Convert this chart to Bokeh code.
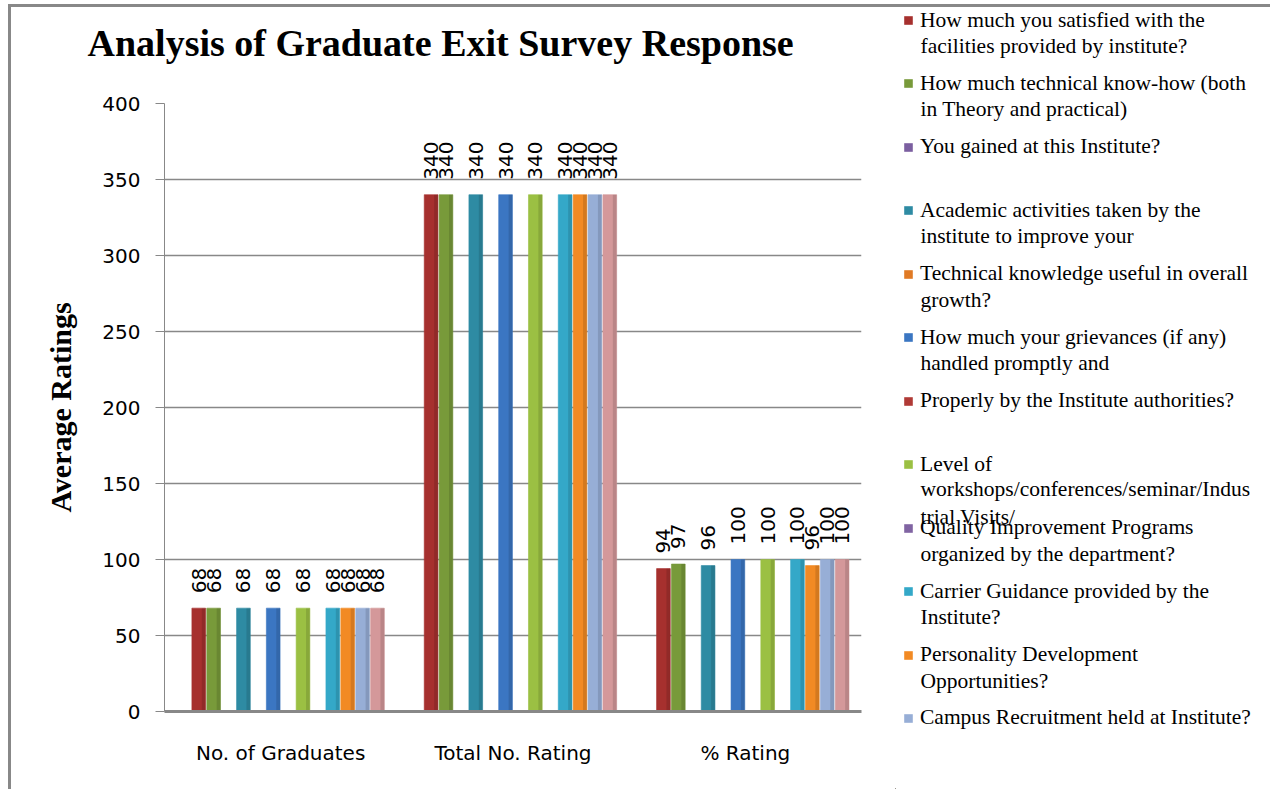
import math
from bokeh.plotting import figure
from bokeh.layouts import row, column
from bokeh.models import (ColumnDataSource, Legend, LegendItem, FixedTicker, Label)
from bokeh.transform import dodge
from bokeh.core.properties import value
from bokeh.embed import file_html
from bokeh.resources import INLINE

# ---------------- data ----------------
categories = ["No. of Graduates", "Total No. Rating", "% Rating"]

series_names = [
    "How much you satisfied with the\nfacilities provided by institute?",
    "How much technical know-how (both\nin Theory and practical)",
    "You gained at this Institute?",
    "Academic activities taken by the\ninstitute to improve your",
    "Technical knowledge useful in overall\ngrowth?",
    "How much your grievances (if any)\nhandled promptly and",
    "Properly by the Institute authorities?",
    "Level of\nworkshops/conferences/seminar/Indus\ntrial Visits/",
    "Quality Improvement Programs\norganized by the department?",
    "Carrier Guidance provided by the\nInstitute?",
    "Personality Development\nOpportunities?",
    "Campus Recruitment held at Institute?",
    "",
]

series_colors = ["#A6302E", "#789A3A", "#7B5FA0", "#2E8BA3", "#E07A25",
                 "#3B76C2", "#B03A36", "#9BC043", "#8064A2", "#34A8C8",
                 "#F28A24", "#97AED6", "#D4989A"]

s01_satisfied_facilities = [68, 340, 94]
s02_technical_knowhow = [68, 340, 97]
s03_gained_institute = [None, None, None]
s04_academic_activities = [68, 340, 96]
s05_technical_knowledge = [None, None, None]
s06_grievances = [68, 340, 100]
s07_properly_authorities = [None, None, None]
s08_workshops_level = [68, 340, 100]
s09_quality_programs = [None, None, None]
s10_carrier_guidance = [68, 340, 100]
s11_personality_dev = [68, 340, 96]
s12_campus_recruitment = [68, 340, 100]
s13_extra = [68, 340, 100]

series_values = [s01_satisfied_facilities, s02_technical_knowhow,
                 s03_gained_institute, s04_academic_activities,
                 s05_technical_knowledge, s06_grievances,
                 s07_properly_authorities, s08_workshops_level,
                 s09_quality_programs, s10_carrier_guidance,
                 s11_personality_dev, s12_campus_recruitment, s13_extra]

y_ticks = [0, 50, 100, 150, 200, 250, 300, 350, 400]
title_text = "Analysis of Graduate Exit Survey Response"

# ---------------- layout geometry (page pixels) ----------------
OX, OY = 11, 7                        # canvas origin on the page
H = 782
SPLIT = 895                           # where the legend panel starts
W1 = SPLIT - OX
W2 = 1270 - SPLIT
TH = 80                               # title strip height
H1 = H - TH
FL, FT, FR, FB = 164, 103, 861, 711   # frame edges

def bare(fig):
    fig.outline_line_color = None
    fig.xgrid.grid_line_color = None
    fig.ygrid.grid_line_color = None
    fig.background_fill_color = "white"
    fig.border_fill_color = "white"

# ---------------- title strip ----------------
t = figure(x_range=(0, W1), y_range=(0, TH), width=W1, height=TH,
           output_backend="svg", toolbar_location=None, title=None,
           x_axis_location=None, y_axis_location=None,
           min_border_left=0, min_border_right=0,
           min_border_top=0, min_border_bottom=0)
t.frame_align = False
bare(t)
t.add_layout(Label(x=87 - OX, y=TH - (42 - OY), text=title_text,
                   text_font="Liberation Serif", text_font_style="bold",
                   text_font_size="38px", text_baseline="middle",
                   text_color="black"))

# ---------------- chart ----------------
p = figure(x_range=categories, y_range=(0, 400), width=W1, height=H1,
           output_backend="svg", toolbar_location=None, title=None,
           min_border_left=FL - OX, min_border_right=W1 - (FR - OX),
           min_border_top=FT - (OY + TH), min_border_bottom=H1 - (FB - OY - TH))
p.frame_align = False
p.outline_line_color = None
p.background_fill_color = "white"
p.border_fill_color = "white"

slot = 0.0641
bar_w = 0.059
for i, (color, vals) in enumerate(zip(series_colors, series_values)):
    off = (i - 5.5) * slot
    tops = [float("nan") if v is None else v for v in vals]
    src = ColumnDataSource(dict(cat=categories, top=tops))
    p.vbar(x=dodge("cat", off, range=p.x_range), top="top", width=bar_w,
           source=src, fill_color=color, line_color=color, line_alpha=0.6)
    # darker right shading strip for a faux 3-D look
    p.vbar(x=dodge("cat", off + bar_w * 0.36, range=p.x_range), top="top",
           width=bar_w * 0.28, source=src, fill_color="black", fill_alpha=0.12,
           line_color=None)
    lc = [c for c, v in zip(categories, vals) if v is not None]
    lv = [v for v in vals if v is not None]
    lsrc = ColumnDataSource(dict(cat=lc, top=lv, txt=[str(v) for v in lv]))
    p.text(x=dodge("cat", off, range=p.x_range), y="top", text="txt", source=lsrc,
           angle=math.pi / 2, text_align="left", text_baseline="middle",
           y_offset=-15, text_font=value("DejaVu Sans"),
           text_font_size="20px", text_color="black")

p.yaxis.ticker = FixedTicker(ticks=y_ticks)
p.yaxis.axis_line_color = "#888888"
p.yaxis.major_tick_line_color = "#888888"
p.yaxis.major_tick_out = 9
p.yaxis.major_tick_in = 0
p.yaxis.minor_tick_line_color = None
p.yaxis.major_label_standoff = 15
p.yaxis.major_label_text_font = "DejaVu Sans"
p.yaxis.major_label_text_font_size = "20px"
p.yaxis.major_label_text_color = "black"
p.yaxis.axis_label = "Average Ratings"
p.yaxis.axis_label_text_font = "Liberation Serif"
p.yaxis.axis_label_text_font_style = "bold"
p.yaxis.axis_label_text_font_size = "30px"
p.yaxis.axis_label_text_color = "black"
p.yaxis.axis_label_standoff = 22

p.xaxis.axis_line_color = "#888888"
p.xaxis.axis_line_width = 3
p.xaxis.major_tick_line_color = None
p.xaxis.minor_tick_line_color = None
p.xaxis.major_label_standoff = 23
p.xaxis.major_label_text_font = "DejaVu Sans"
p.xaxis.major_label_text_font_size = "20px"
p.xaxis.major_label_text_color = "black"

p.xgrid.grid_line_color = None
p.ygrid.grid_line_color = "#888888"
p.ygrid.grid_line_width = 1.5

# ---------------- legend panel ----------------
q = figure(x_range=(0, W2), y_range=(0, H), width=W2, height=H,
           output_backend="svg", toolbar_location=None, title=None,
           x_axis_location=None, y_axis_location=None,
           min_border_left=0, min_border_right=0,
           min_border_top=0, min_border_bottom=0)
q.frame_align = False
bare(q)

FIRST_LINE_Y = 20      # page y of the first legend line (centre)
PITCH = 63.45          # page distance between legend entries
LINE_H = 25.5          # distance between wrapped lines
ROW_BOX = 26           # height of one single-line legend entry
FONT = "Liberation Serif"
FSIZE = "21.5px"
k = 0
for name, color in zip(series_names, series_colors):
    if not name:
        continue
    # legend proxy: one bar placed outside the visible panel
    r = q.vbar(x=[-100], top=[1], width=1, fill_color=color, line_color=color,
               line_alpha=0.6)
    lines = name.split("\n")
    yc = FIRST_LINE_Y + PITCH * k - OY          # canvas y of first line centre
    leg = Legend(items=[LegendItem(label=lines[0], renderers=[r])],
                 location=(903 - SPLIT, H - (yc + ROW_BOX / 2)),
                 glyph_width=10, glyph_height=10, label_height=ROW_BOX,
                 label_standoff=7, spacing=0, padding=0, margin=0,
                 border_line_color=None, background_fill_alpha=0,
                 label_text_font=FONT, label_text_font_size=FSIZE,
                 label_text_color="black")
    q.add_layout(leg, "center")
    rest = lines[1:]
    if rest:
        m = len(rest)
        # centre of the continuation block (it is drawn centred on y)
        block_c = yc + LINE_H * (1 + (m - 1) / 2)
        q.add_layout(Label(x=920 - SPLIT, y=H - block_c,
                           text="\n".join(rest), text_align="left",
                           text_baseline="middle", text_line_height=LINE_H / 21.5,
                           text_font=FONT, text_font_size=FSIZE,
                           text_color="black"))
    k += 1

layout = row(column(t, p, spacing=0), q, spacing=0)
layout.styles = {"margin-left": "8px", "margin-top": "4px",
                 "border-left": "3px solid #888888",
                 "border-top": "3px solid #888888"}

open("out.html", "w").write(file_html(layout, INLINE))
